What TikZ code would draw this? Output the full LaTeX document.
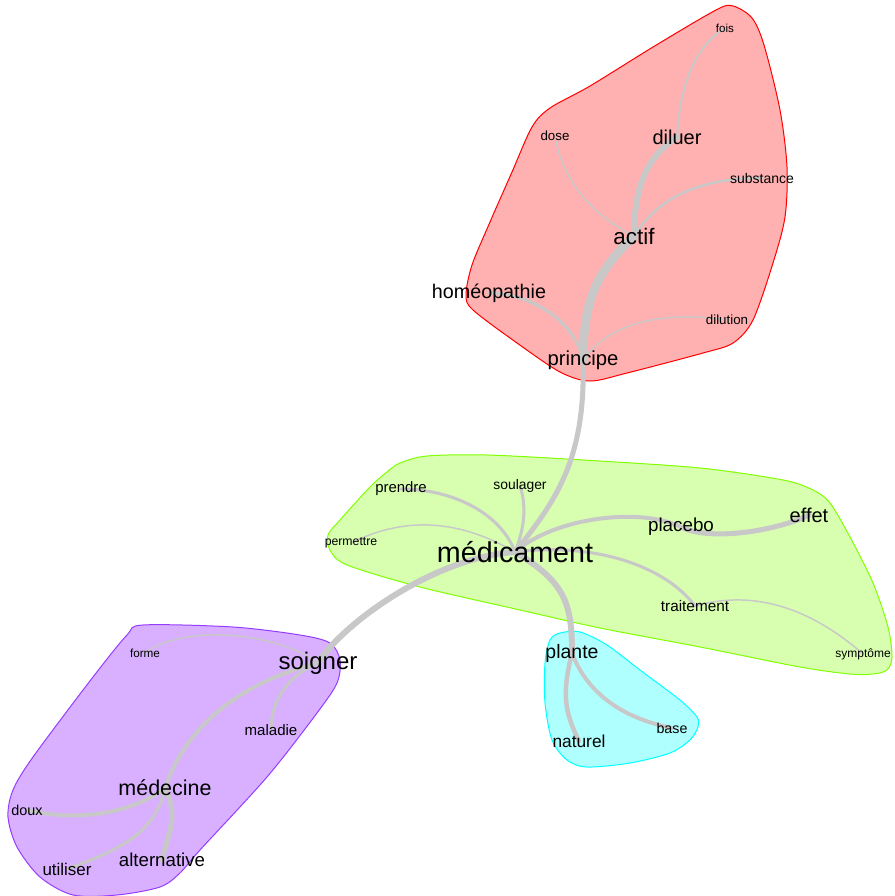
\documentclass[tikz,border=0pt]{standalone}
\usepackage{fontspec}
\setmainfont{Liberation Sans}
\definecolor{edgegray}{RGB}{200,200,200}
\definecolor{redline}{RGB}{255,0,0}
\definecolor{redfill}{RGB}{255,176,176}
\definecolor{greenline}{RGB}{128,255,0}
\definecolor{greenfill}{RGB}{216,255,176}
\definecolor{cyanline}{RGB}{0,255,255}
\definecolor{cyanfill}{RGB}{176,255,255}
\definecolor{purpleline}{RGB}{150,60,255}
\definecolor{purplefill}{RGB}{216,176,255}
\pgfdeclarelayer{hulls}
\pgfdeclarelayer{edges}
\pgfsetlayers{hulls,edges,main}
\tikzset{
  mot/.style={font=\fontsize{#1}{#1}\selectfont, inner sep=0pt},
  lien/.style={edgegray, line width=#1, line cap=round},
  hull/.style={line width=0.75pt}
}
\begin{document}
\begin{tikzpicture}[x=0.75pt, y=-0.75pt]
    \useasboundingbox (0,0) rectangle (894,896);

    % words
    \node[mot=8.7pt] (fois) at (725,28) {fois};
    \node[mot=10pt] (dose) at (555,136) {dose};
    \node[mot=15pt] (diluer) at (677,137) {diluer};
    \node[mot=10.5pt] (substance) at (762,178) {substance};
    \node[mot=16.8pt] (actif) at (634,236) {actif};
    \node[mot=14.8pt] (homeo) at (489,293) {homéopathie};
    \node[mot=10pt] (dilution) at (727,320) {dilution};
    \node[mot=15.2pt] (principe) at (583,360) {principe};

    \node[mot=11.2pt] (prendre) at (401,489) {prendre};
    \node[mot=10.4pt] (soulager) at (520,486) {soulager};
    \node[mot=9.2pt] (permettre) at (351,543) {permettre};
    \node[mot=21.5pt] (medicament) at (515,552) {médicament};
    \node[mot=14.1pt] (placebo) at (681,527) {placebo};
    \node[mot=15pt] (effet) at (809,515) {effet};
    \node[mot=11.5pt] (traitement) at (695,606) {traitement};
    \node[mot=9pt] (symptome) at (863,654) {symptôme};

    \node[mot=14.6pt] (plante) at (572,653) {plante};
    \node[mot=13pt] (naturel) at (579,741) {naturel};
    \node[mot=10.7pt] (base) at (672,728) {base};

    \node[mot=18pt] (soigner) at (318,663) {soigner};
    \node[mot=8.8pt] (forme) at (145,653) {forme};
    \node[mot=11.3pt] (maladie) at (271,730) {maladie};
    \node[mot=16.1pt] (medecine) at (165,788) {médecine};
    \node[mot=10.8pt] (doux) at (27,810) {doux};
    \node[mot=12.7pt] (utiliser) at (67,869) {utiliser};
    \node[mot=14pt] (alternative) at (162,860) {alternative};

    % groups
    \begin{pgfonlayer}{hulls}
    \filldraw[hull, draw=redline, fill=redfill] plot[smooth cycle] coordinates {
      (733,6) (752,18) (764,45) (780,110) (787,167) (785,217) (773,263) (753,320)
      (733,343) (703,353) (627,373) (590,381) (560,372) (517,343) (473,310) (466,295)
      (472,265) (490,222) (512,172) (532,127) (550,108) (590,86) (653,47) (716,10)};
    \filldraw[hull, draw=greenline, fill=greenfill] plot[smooth cycle] coordinates {
      (400,463) (427,456) (487,455) (583,460) (700,468) (783,480) (813,490) (830,503)
      (850,537) (873,583) (888,627) (892,657) (887,670) (873,674) (850,674) (800,667)
      (700,647) (600,628) (520,610) (420,587) (347,565) (330,550) (328,535) (340,520)
      (370,487) (387,472)};
    \filldraw[hull, draw=cyanline, fill=cyanfill] plot[smooth cycle] coordinates {
      (560,633) (580,632) (607,645) (640,670) (680,700) (697,717) (698,727) (690,740)
      (670,753) (630,763) (587,767) (567,760) (552,740) (545,703) (545,663) (550,640)};
    \filldraw[hull, draw=purpleline, fill=purplefill] plot[smooth cycle] coordinates {
      (143,625) (233,627) (300,635) (330,643) (340,660) (337,683) (317,713) (267,777)
      (200,850) (180,873) (160,887) (117,895) (73,895) (40,877) (17,847) (8,817)
      (13,790) (33,757) (93,677) (127,635)};
    \end{pgfonlayer}

    % links
    \begin{pgfonlayer}{edges}
    \draw[lien=1.1pt] (traitement.center) .. controls +(70,-20) and +(-40,-35) .. (symptome.center);
    \draw[lien=1.1pt] (medicament.center) .. controls +(-60,-35) and +(50,-25) .. (permettre.center);
    \draw[lien=1.1pt] (actif.center) .. controls +(-50,-25) and +(5,35) .. (dose.center);
    \draw[lien=1.1pt] (principe.center) .. controls +(25,-35) and +(-70,-10) .. (dilution.center);
    \draw[lien=1.1pt] (soigner.center) .. controls +(-40,-30) and +(40,-30) .. (forme.center);
    \draw[lien=1.5pt] (diluer.center) .. controls +(3,-60) and +(-25,15) .. (fois.center);
    \draw[lien=1.9pt] (actif.center) .. controls +(25,-40) and +(-60,0) .. (substance.center);
    \draw[lien=2.3pt] (principe.center) .. controls +(-8,-40) and +(40,0) .. (homeo.center);
    \draw[lien=2.3pt] (medicament.center) .. controls +(-15,-40) and +(50,0) .. (prendre.center);
    \draw[lien=2.3pt] (medicament.center) .. controls +(12,-30) and +(5,15) .. (soulager.center);
    \draw[lien=2.3pt] (medicament.center) .. controls +(80,-10) and +(-30,-40) .. (traitement.center);
    \draw[lien=2.3pt] (soigner.center) .. controls +(-35,15) and +(0,-25) .. (maladie.center);
    \draw[lien=2.3pt] (medecine.center) .. controls +(-10,50) and +(40,-15) .. (utiliser.center);
    \draw[lien=3pt] (medicament.center) .. controls +(40,-35) and +(-40,-20) .. (placebo.center);
    \draw[lien=3pt] (plante.center) .. controls +(15,40) and +(-50,-10) .. (base.center);
    \draw[lien=3pt] (soigner.center) .. controls +(-80,20) and +(20,-60) .. (medecine.center);
    \draw[lien=3pt] (medecine.center) .. controls +(-40,30) and +(40,10) .. (doux.center);
    \draw[lien=3.4pt] (plante.center) .. controls +(-10,40) and +(-15,-30) .. (naturel.center);
    \draw[lien=3.8pt] (principe.center) .. controls +(3,100) and +(40,-50) .. (medicament.center);
    \draw[lien=3.8pt] (placebo.center) .. controls +(30,15) and +(-30,15) .. (effet.center);
    \draw[lien=3.8pt] (medecine.center) .. controls +(15,30) and +(5,-25) .. (alternative.center);
    \draw[lien=4.5pt] (actif.center) .. controls +(0,-50) and +(-30,20) .. (diluer.center);
    \draw[lien=4.5pt] (medicament.center) .. controls +(50,30) and +(0,-50) .. (plante.center);
    \draw[lien=4.5pt] (medicament.center) .. controls +(-80,5) and +(25,-40) .. (soigner.center);
    \draw[lien=6.5pt] (principe.center) .. controls +(0,-70) and +(-30,30) .. (actif.center);
    \end{pgfonlayer}
\end{tikzpicture}
\end{document}
